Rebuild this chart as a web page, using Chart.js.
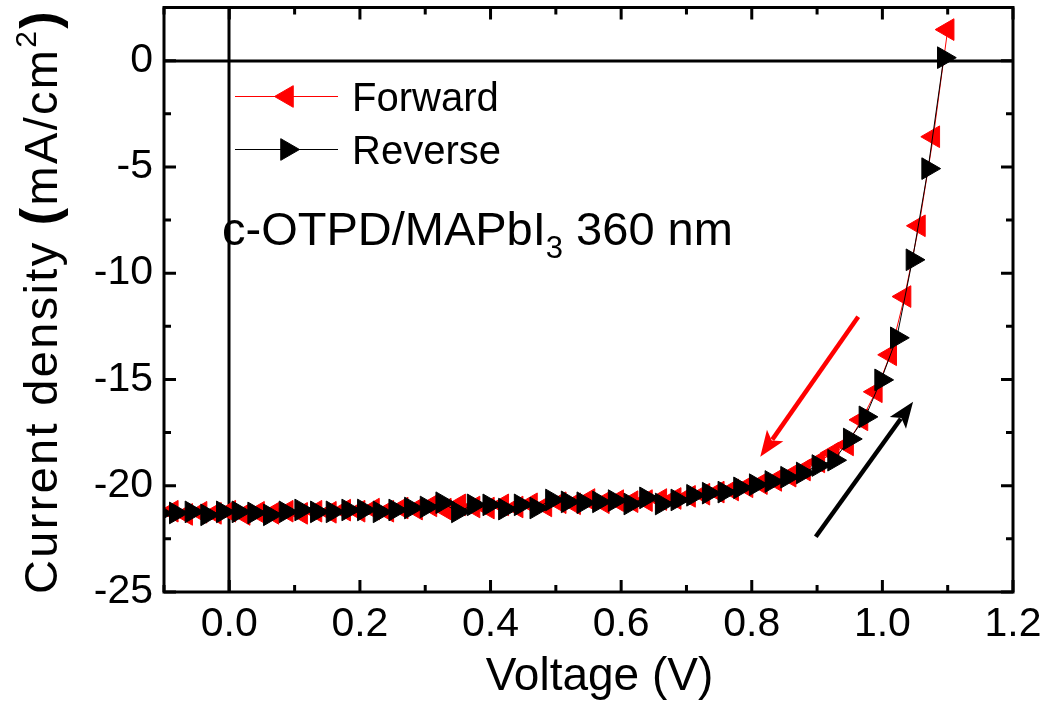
<!DOCTYPE html>
<html>
<head>
<meta charset="utf-8">
<script src="https://cdn.jsdelivr.net/npm/chart.js@4.4.1/dist/chart.umd.min.js"></script>
<style>
  html, body { margin: 0; padding: 0; background: #fff; overflow: hidden; }
  #wrap { width: 1049px; height: 714px; margin-top: -6px; }
</style>
</head>
<body>
<div id="wrap"><canvas id="jv"></canvas></div>
<script>
// reverse scan (black, right triangles) - voltage in V, current in mA/cm2
var revVoltage = [-0.106, -0.082, -0.058, -0.034, -0.01, 0.014, 0.038, 0.062, 0.086, 0.11,
  0.134, 0.158, 0.182, 0.206, 0.23, 0.254, 0.278, 0.302, 0.326, 0.35,
  0.374, 0.398, 0.422, 0.446, 0.47, 0.494, 0.518, 0.542, 0.566, 0.59,
  0.614, 0.638, 0.662, 0.686, 0.71, 0.734, 0.758, 0.782, 0.806, 0.83,
  0.854, 0.878, 0.902, 0.926, 0.95, 0.974, 0.998, 1.022, 1.046, 1.07, 1.094];
var revCurrent = [-21.3, -21.28, -21.23, -21.37, -21.23, -21.23, -21.28, -21.37, -21.23, -21.14,
  -21.23, -21.23, -21.14, -21.14, -21.23, -21.14, -21.05, -21.0, -20.8, -21.23,
  -20.9, -20.9, -21.1, -20.9, -21.05, -20.67, -20.76, -20.8, -20.76, -20.7,
  -20.86, -20.57, -20.86, -20.67, -20.45, -20.35, -20.3, -20.1, -19.95, -19.8,
  -19.6, -19.4, -19.05, -18.8, -17.8, -16.76, -15.02, -13.04, -9.37, -5.08, 0.14];

// forward scan (red, left triangles)
var fwdVoltage = [-0.088, -0.066, -0.044, -0.022, 0.0, 0.022, 0.044, 0.066, 0.088, 0.11,
  0.132, 0.154, 0.176, 0.198, 0.22, 0.242, 0.264, 0.286, 0.308, 0.33,
  0.352, 0.374, 0.396, 0.418, 0.44, 0.462, 0.484, 0.506, 0.528, 0.55,
  0.572, 0.594, 0.616, 0.638, 0.66, 0.682, 0.704, 0.726, 0.748, 0.77,
  0.792, 0.814, 0.836, 0.858, 0.88, 0.902, 0.924, 0.946, 0.968, 0.99,
  1.012, 1.034, 1.056, 1.078, 1.1];
var fwdCurrent = [-21.2, -21.35, -21.25, -21.3, -21.2, -21.35, -21.25, -21.3, -21.2, -21.3,
  -21.2, -21.25, -21.15, -21.2, -21.1, -21.2, -21.05, -21.1, -20.95, -21.1,
  -20.9, -21.0, -21.05, -20.9, -21.0, -20.85, -20.95, -20.8, -20.85, -20.65,
  -20.8, -20.7, -20.75, -20.7, -20.65, -20.6, -20.5, -20.4, -20.3, -20.2,
  -20.05, -19.9, -19.75, -19.55, -19.26, -18.88, -18.46, -18.08, -16.9, -15.58,
  -13.84, -11.1, -7.77, -3.58, 1.46];

var xTickValues = [0, 0.2, 0.4, 0.6, 0.8, 1.0, 1.2];
var xMinorValues = [-0.1, 0.1, 0.3, 0.5, 0.7, 0.9, 1.1];
var yTickValues = [0, -5, -10, -15, -20, -25];
var yMinorValues = [2.5, -2.5, -7.5, -12.5, -17.5, -22.5];

// arrows in data units: [fromV, fromJ, toV, toJ, colour]
var arrows = [
  [0.963, -12.05, 0.813, -18.64, '#ff0000'],
  [0.898, -22.4, 1.047, -16.05, '#000000']
];

var FONT = "'Liberation Sans', Arial, sans-serif";
var SHIFT = 6; // canvas sits 6px above the page top

function pts(xs, ys) {
  return xs.map(function(v, i) { return { x: v, y: ys[i] }; });
}

var decor = {
  id: 'decor',
  beforeDatasetsDraw: function(chart) {
    var ctx = chart.ctx, a = chart.chartArea;
    var sx = chart.scales.x, sy = chart.scales.y;
    ctx.save();
    ctx.strokeStyle = '#000';
    ctx.lineWidth = 3;
    var x0 = Math.round(sx.getPixelForValue(0)), y0 = Math.round(sy.getPixelForValue(0));
    ctx.beginPath();
    ctx.moveTo(x0, a.top); ctx.lineTo(x0, a.bottom);
    ctx.moveTo(a.left, y0); ctx.lineTo(a.right, y0);
    ctx.stroke();
    ctx.restore();
  },
  afterDatasetsDraw: function(chart) {
    var ctx = chart.ctx, a = chart.chartArea;
    var sx = chart.scales.x, sy = chart.scales.y;
    ctx.save();

    // arrows
    arrows.forEach(function(ar) {
      var x1 = sx.getPixelForValue(ar[0]), y1 = sy.getPixelForValue(ar[1]);
      var x2 = sx.getPixelForValue(ar[2]), y2 = sy.getPixelForValue(ar[3]);
      var ang = Math.atan2(y2 - y1, x2 - x1);
      var hl = 26, hw = 10;
      var bx = x2 - Math.cos(ang) * hl, by = y2 - Math.sin(ang) * hl;
      ctx.strokeStyle = ar[4];
      ctx.fillStyle = ar[4];
      ctx.lineWidth = 4.5;
      ctx.beginPath();
      ctx.moveTo(x1, y1); ctx.lineTo(bx + Math.cos(ang) * 5, by + Math.sin(ang) * 5);
      ctx.stroke();
      ctx.beginPath();
      ctx.moveTo(x2, y2);
      ctx.lineTo(bx + Math.sin(ang) * hw, by - Math.cos(ang) * hw);
      ctx.lineTo(bx + Math.cos(ang) * 6, by + Math.sin(ang) * 6);
      ctx.lineTo(bx - Math.sin(ang) * hw, by + Math.cos(ang) * hw);
      ctx.closePath();
      ctx.fill();
    });

    // frame
    ctx.strokeStyle = '#000';
    ctx.lineWidth = 3;
    ctx.strokeRect(a.left, a.top, a.right - a.left, a.bottom - a.top);

    // inward ticks on all four sides
    ctx.beginPath();
    function xt(v, len) {
      var p = sx.getPixelForValue(v);
      ctx.moveTo(p, a.bottom); ctx.lineTo(p, a.bottom - len);
      ctx.moveTo(p, a.top); ctx.lineTo(p, a.top + len);
    }
    function yt(v, len) {
      var p = sy.getPixelForValue(v);
      ctx.moveTo(a.left, p); ctx.lineTo(a.left + len, p);
      ctx.moveTo(a.right, p); ctx.lineTo(a.right - len, p);
    }
    xTickValues.forEach(function(v) { xt(v, 12); });
    xMinorValues.forEach(function(v) { xt(v, 7); });
    yTickValues.forEach(function(v) { yt(v, 12); });
    yMinorValues.forEach(function(v) { yt(v, 7); });
    ctx.stroke();

    // legend
    var ds = chart.data.datasets;
    var rows = [a.top + 89, a.top + 142];
    ds.slice().reverse().forEach(function(d, i) {
      var y = rows[i];
      ctx.strokeStyle = d.borderColor;
      ctx.lineWidth = 1;
      ctx.beginPath();
      ctx.moveTo(a.left + 71, y); ctx.lineTo(a.left + 174, y);
      ctx.stroke();
      ctx.fillStyle = d.backgroundColor;
      Chart.helpers.drawPoint(ctx, {
        pointStyle: 'triangle', radius: d.pointRadius, rotation: d.pointRotation,
        borderWidth: 1
      }, a.left + 123, y);
      ctx.fillStyle = '#000';
      ctx.font = '40px ' + FONT;
      ctx.textBaseline = 'middle';
      ctx.textAlign = 'left';
      ctx.fillText(d.label, a.left + 188, y + 3);
    });

    // sample label
    ctx.fillStyle = '#000';
    ctx.textBaseline = 'alphabetic';
    ctx.textAlign = 'left';
    var tx = a.left + 58, ty = a.top + 237;
    ctx.font = '47px ' + FONT;
    ctx.fillText('c-OTPD/MAPbI', tx, ty);
    tx += ctx.measureText('c-OTPD/MAPbI').width;
    ctx.font = '31px ' + FONT;
    ctx.fillText('3', tx, ty + 13);
    tx += ctx.measureText('3').width;
    ctx.font = '47px ' + FONT;
    ctx.fillText(' 360 nm', tx, ty);

    ctx.restore();
  },
  afterDraw: function(chart) {
    var ctx = chart.ctx, a = chart.chartArea;
    ctx.save();
    ctx.fillStyle = '#000';
    // x title
    ctx.font = '46px ' + FONT;
    ctx.textAlign = 'center';
    ctx.textBaseline = 'alphabetic';
    ctx.fillText('Voltage (V)', (a.left + a.right) / 2 + 11, 690 + SHIFT);

    // y title, rotated, with bold brackets and superscript, stretched to 585px
    var parts = [
      ['Current density ', '47px ', 0],
      ['(', 'bold 52px ', 0],
      ['mA/cm', '47px ', 0],
      ['2', '30px ', -21],
      [')', 'bold 52px ', 0]
    ];
    var total = 0, nch = 0;
    parts.forEach(function(p) {
      ctx.font = p[1] + FONT; total += ctx.measureText(p[0]).width; nch += p[0].length;
    });
    var gap = Math.max(0, (585 - total) / nch);
    ctx.letterSpacing = gap.toFixed(2) + 'px';
    ctx.translate(57, 302 + SHIFT);
    ctx.rotate(-Math.PI / 2);
    ctx.textAlign = 'left';
    var cx = -292;
    parts.forEach(function(p) {
      ctx.font = p[1] + FONT;
      ctx.fillText(p[0], cx, p[2]);
      cx += ctx.measureText(p[0]).width;
    });
    ctx.restore();
  }
};

var ctx = document.getElementById('jv');
var chart = new Chart(ctx, {
  type: 'scatter',
  data: {
    datasets: [{
      label: 'Reverse',
      data: pts(revVoltage, revCurrent),
      showLine: true,
      borderColor: '#000000',
      backgroundColor: '#000000',
      borderWidth: 1,
      pointStyle: 'triangle',
      pointRotation: 90,
      pointRadius: 12.5,
      pointBorderWidth: 1,
      pointHoverRadius: 12.5,
      clip: 0,
      order: 0
    }, {
      label: 'Forward',
      data: pts(fwdVoltage, fwdCurrent),
      showLine: true,
      borderColor: '#ff0000',
      backgroundColor: '#ff0000',
      borderWidth: 1,
      pointStyle: 'triangle',
      pointRotation: 270,
      pointRadius: 12.5,
      pointBorderWidth: 1,
      pointHoverRadius: 12.5,
      clip: 0,
      order: 1
    }]
  },
  options: {
    responsive: true,
    maintainAspectRatio: false,
    animation: false,
    layout: { padding: { top: 2, right: 36, left: 0, bottom: 0 } },
    plugins: {
      legend: { display: false },
      tooltip: { enabled: false }
    },
    scales: {
      x: {
        type: 'linear',
        min: -0.1,
        max: 1.2,
        grid: { display: false, drawTicks: false },
        border: { display: false },
        afterBuildTicks: function(s) { s.ticks = xTickValues.map(function(v) { return { value: v }; }); },
        afterFit: function(s) { s.height = 116; s.paddingLeft = 0; s.paddingRight = 0; },
        ticks: {
          autoSkip: false,
          maxRotation: 0,
          padding: 8,
          color: '#000',
          font: { family: FONT, size: 41 },
          callback: function(v) { return Number(v).toFixed(1); }
        }
      },
      y: {
        type: 'linear',
        min: -25,
        max: 2.5,
        grid: { display: false, drawTicks: false },
        border: { display: false },
        afterBuildTicks: function(s) { s.ticks = yTickValues.map(function(v) { return { value: v }; }); },
        afterFit: function(s) { s.width = 164; s.paddingTop = 0; s.paddingBottom = 0; },
        ticks: {
          autoSkip: false,
          padding: 11,
          color: '#000',
          font: { family: FONT, size: 41 },
          callback: function(v) { return String(v); }
        }
      }
    }
  },
  plugins: [decor]
});
</script>
</body>
</html>
